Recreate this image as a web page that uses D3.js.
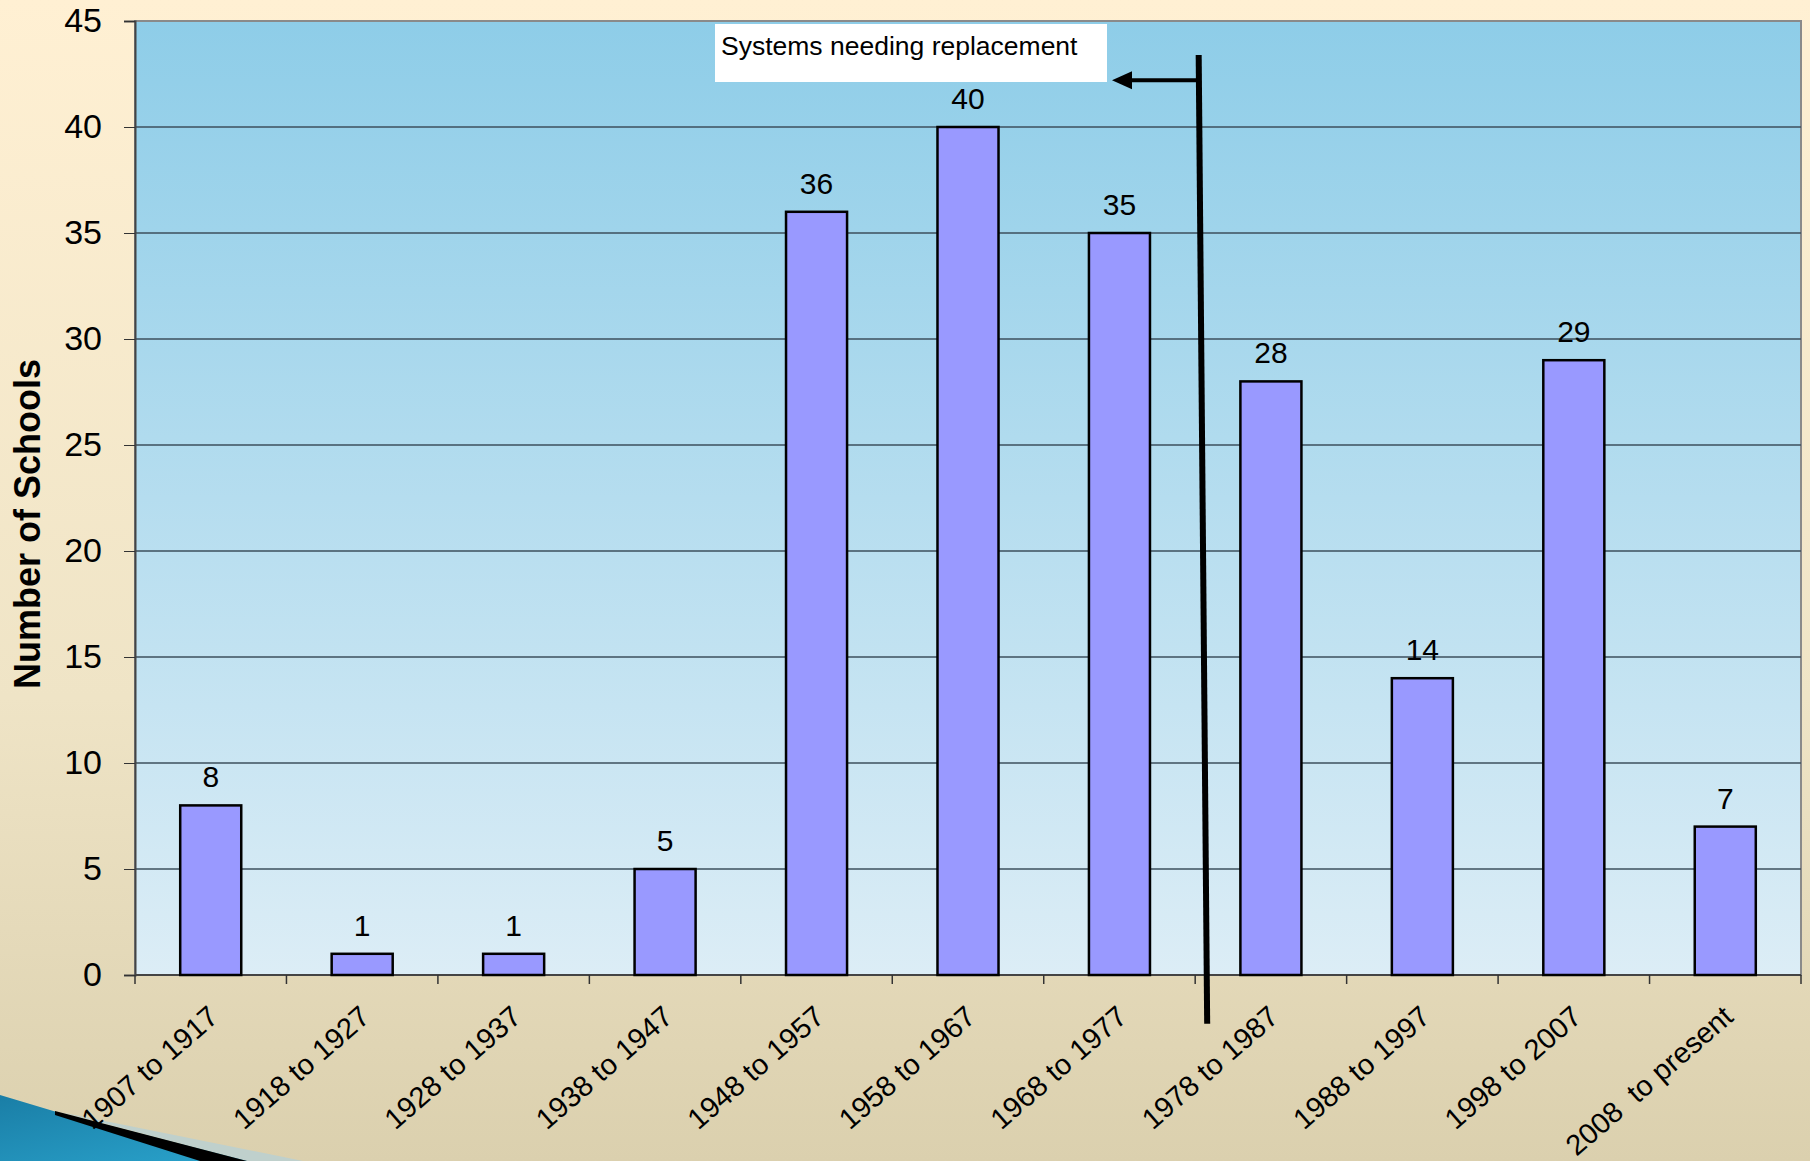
<!DOCTYPE html>
<html>
<head>
<meta charset="utf-8">
<title>Number of Schools</title>
<script src="https://d3js.org/d3.v7.min.js"></script>
<style>
  body { margin: 0; }
  svg { display: block; font-family: "Liberation Sans", Arial, sans-serif; }
  .grid line { stroke: #3d4f5c; stroke-width: 1.5px; }
  .bar { fill: #9999ff; stroke: #000; stroke-width: 2.5px; }
  .ylab text { font-size: 34px; fill: #000; }
</style>
</head>
<body>
<script>
// data
var periods = ["1907 to 1917", "1918 to 1927", "1928 to 1937", "1938 to 1947",
  "1948 to 1957", "1958 to 1967", "1968 to 1977", "1978 to 1987",
  "1988 to 1997", "1998 to 2007", "2008  to present"];
var schools = [8, 1, 1, 5, 36, 40, 35, 28, 14, 29, 7];
var yTicks = [0, 5, 10, 15, 20, 25, 30, 35, 40, 45];

var w = 1810, h = 1161;
// plot box (window.top is reserved, so prefix these)
var pLeft = 135, pRight = 1801, pTop = 21, pBottom = 975;

var svg = d3.select("body").append("svg")
    .attr("width", w)
    .attr("height", h);

var defs = svg.append("defs");
var bg = defs.append("linearGradient").attr("id", "bg")
    .attr("x1", 0).attr("y1", 0).attr("x2", 0).attr("y2", 1);
bg.append("stop").attr("offset", "0%").attr("stop-color", "#fff0d3");
bg.append("stop").attr("offset", "60%").attr("stop-color", "#efe4c6");
bg.append("stop").attr("offset", "100%").attr("stop-color", "#dbd0ae");

var plotbg = defs.append("linearGradient").attr("id", "plotbg")
    .attr("x1", 0).attr("y1", 0).attr("x2", 0).attr("y2", 1);
plotbg.append("stop").attr("offset", "0%").attr("stop-color", "#8ecde8");
plotbg.append("stop").attr("offset", "100%").attr("stop-color", "#dcedf6");

var swoosh = defs.append("linearGradient").attr("id", "swoosh")
    .attr("x1", 0).attr("y1", 0).attr("x2", 1).attr("y2", 1);
swoosh.append("stop").attr("offset", "0%").attr("stop-color", "#1a7ea6");
swoosh.append("stop").attr("offset", "100%").attr("stop-color", "#2aa3cc");

// page background
svg.append("rect")
    .attr("width", w).attr("height", h)
    .attr("fill", "url(#bg)");

// bottom-left decoration
svg.append("path")
    .attr("d", "M60,1112 L303,1161 L247,1161 Z")
    .attr("fill", "#bfd0cc");
svg.append("path")
    .attr("d", "M0,1095 L60,1113 L247,1161 L0,1161 Z")
    .attr("fill", "url(#swoosh)");
svg.append("path")
    .attr("d", "M55,1111 L247,1161 L200,1161 L55,1115 Z")
    .attr("fill", "#000");

var x = d3.scaleBand()
    .domain(periods)
    .range([pLeft, pRight])
    .paddingInner(0.597)
    .paddingOuter(0.2985);

var y = d3.scaleLinear()
    .domain([0, 45])
    .range([pBottom, pTop]);

// plot area
svg.append("rect")
    .attr("x", pLeft).attr("y", pTop)
    .attr("width", pRight - pLeft).attr("height", pBottom - pTop)
    .attr("fill", "url(#plotbg)")
    .attr("stroke", "#8a8a8a")
    .attr("stroke-width", 2);

// gridlines
svg.append("g")
    .attr("class", "grid")
    .selectAll("line")
    .data(yTicks.filter(function(d) { return d > 0 && d < 45; }))
    .enter().append("line")
    .attr("x1", pLeft).attr("x2", pRight)
    .attr("y1", function(d) { return y(d); })
    .attr("y2", function(d) { return y(d); });

// y axis
var yAxis = svg.append("g")
    .attr("class", "ylab")
    .attr("transform", "translate(" + pLeft + ",0)")
    .call(d3.axisLeft(y).tickValues(yTicks).tickSize(11).tickPadding(22));
yAxis.selectAll("line").attr("stroke", "#333");
yAxis.select(".domain").attr("stroke", "#444").attr("stroke-width", 2);
yAxis.selectAll("text").attr("font-family", "Liberation Sans, Arial, sans-serif");

// x axis line + ticks on category boundaries
svg.append("line")
    .attr("x1", pLeft).attr("x2", pRight)
    .attr("y1", pBottom).attr("y2", pBottom)
    .attr("stroke", "#444").attr("stroke-width", 2);

var bounds = d3.range(periods.length + 1).map(function(i) {
    return pLeft + i * x.step();
});
svg.append("g").selectAll("line")
    .data(bounds)
    .enter().append("line")
    .attr("x1", function(d) { return d; })
    .attr("x2", function(d) { return d; })
    .attr("y1", pBottom).attr("y2", pBottom + 9)
    .attr("stroke", "#333").attr("stroke-width", 1.5);

// bars
svg.append("g").selectAll("rect")
    .data(schools)
    .enter().append("rect")
    .attr("class", "bar")
    .attr("x", function(d, i) { return x(periods[i]); })
    .attr("y", function(d) { return y(d); })
    .attr("width", x.bandwidth())
    .attr("height", function(d) { return y(0) - y(d); });

// value labels
svg.append("g").selectAll("text")
    .data(schools)
    .enter().append("text")
    .attr("x", function(d, i) { return x(periods[i]) + x.bandwidth() / 2; })
    .attr("y", function(d) { return y(d) - 18; })
    .attr("text-anchor", "middle")
    .attr("font-size", 30)
    .text(function(d) { return d; });

// category labels
svg.append("g").selectAll("text")
    .data(periods)
    .enter().append("text")
    .attr("transform", function(d) {
        var cx = x(d) + x.bandwidth() / 2 - 4;
        return "translate(" + cx + "," + (pBottom + 29) + ") rotate(-41)";
    })
    .attr("text-anchor", "end")
    .attr("dy", "0.71em")
    .attr("font-size", 29)
    .style("white-space", "pre")
    .text(function(d) { return d; });

// y axis title
svg.append("text")
    .attr("transform", "translate(27," + ((pTop + pBottom) / 2 + 26) + ") rotate(-90)")
    .attr("text-anchor", "middle")
    .attr("dy", "0.35em")
    .attr("font-size", 36)
    .attr("font-weight", "bold")
    .text("Number of Schools");

// annotation: replacement divider and arrow
var divX = pLeft + 7 * x.step();
svg.append("line")
    .attr("x1", divX + 3.5).attr("y1", y(43.4))
    .attr("x2", divX + 12).attr("y2", y(-2.3))
    .attr("stroke", "#000").attr("stroke-width", 6);

var arrowY = y(42.2);
svg.append("line")
    .attr("x1", divX + 3.5).attr("y1", arrowY)
    .attr("x2", 1128).attr("y2", arrowY)
    .attr("stroke", "#000").attr("stroke-width", 4);
svg.append("path")
    .attr("d", "M1112," + arrowY + " L1132," + (arrowY - 9) + " L1132," + (arrowY + 9) + " Z")
    .attr("fill", "#000");

svg.append("rect")
    .attr("x", 715).attr("y", 24)
    .attr("width", 392).attr("height", 58)
    .attr("fill", "#fff");
svg.append("text")
    .attr("x", 721).attr("y", 55)
    .attr("font-size", 26.5)
    .text("Systems needing replacement");
</script>
</body>
</html>
